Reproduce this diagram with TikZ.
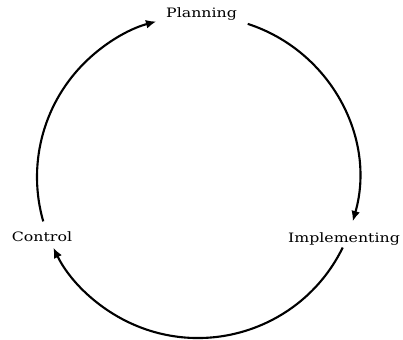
\documentclass[tikz,border=0pt]{standalone}
\usepackage{fontspec}
\setmainfont[FakeStretch=1.22]{DejaVu Serif}
\usetikzlibrary{arrows.meta,calc}

\begin{document}
\begin{tikzpicture}[
    stage/.style={font=\fontsize{9.2}{11}\selectfont, inner sep=1pt, anchor=base},
    cyc/.style={draw=black, line width=1.5pt, -{Latex[length=2.6mm,width=2.2mm]}}]
  \useasboundingbox (0,0) rectangle (10.075,8.475);
  \coordinate (hub) at (4.95,4.05);
  \def\R{4.025}
  \node[stage] (plan) at (5.04,8.05)  {Planning};
  \node[stage] (impl) at (8.6,2.425)  {Implementing};
  \node[stage] (ctrl) at (1.05,2.45)  {Control};
  % arc ends sit on the circle round the hub
  \coordinate (ctrl-out) at ($(hub)+(196:\R)$);
  \coordinate (plan-out) at ($(hub)+(72:\R)$);
  \coordinate (impl-out) at ($(hub)+(-26:\R)$);
  \draw[cyc] (ctrl-out) arc[start angle=196, end angle=105, radius=\R];
  \draw[cyc] (plan-out) arc[start angle=72, end angle=-16, radius=\R];
  \draw[cyc] (impl-out) arc[start angle=-26, end angle=-154, radius=\R];
\end{tikzpicture}
\end{document}
